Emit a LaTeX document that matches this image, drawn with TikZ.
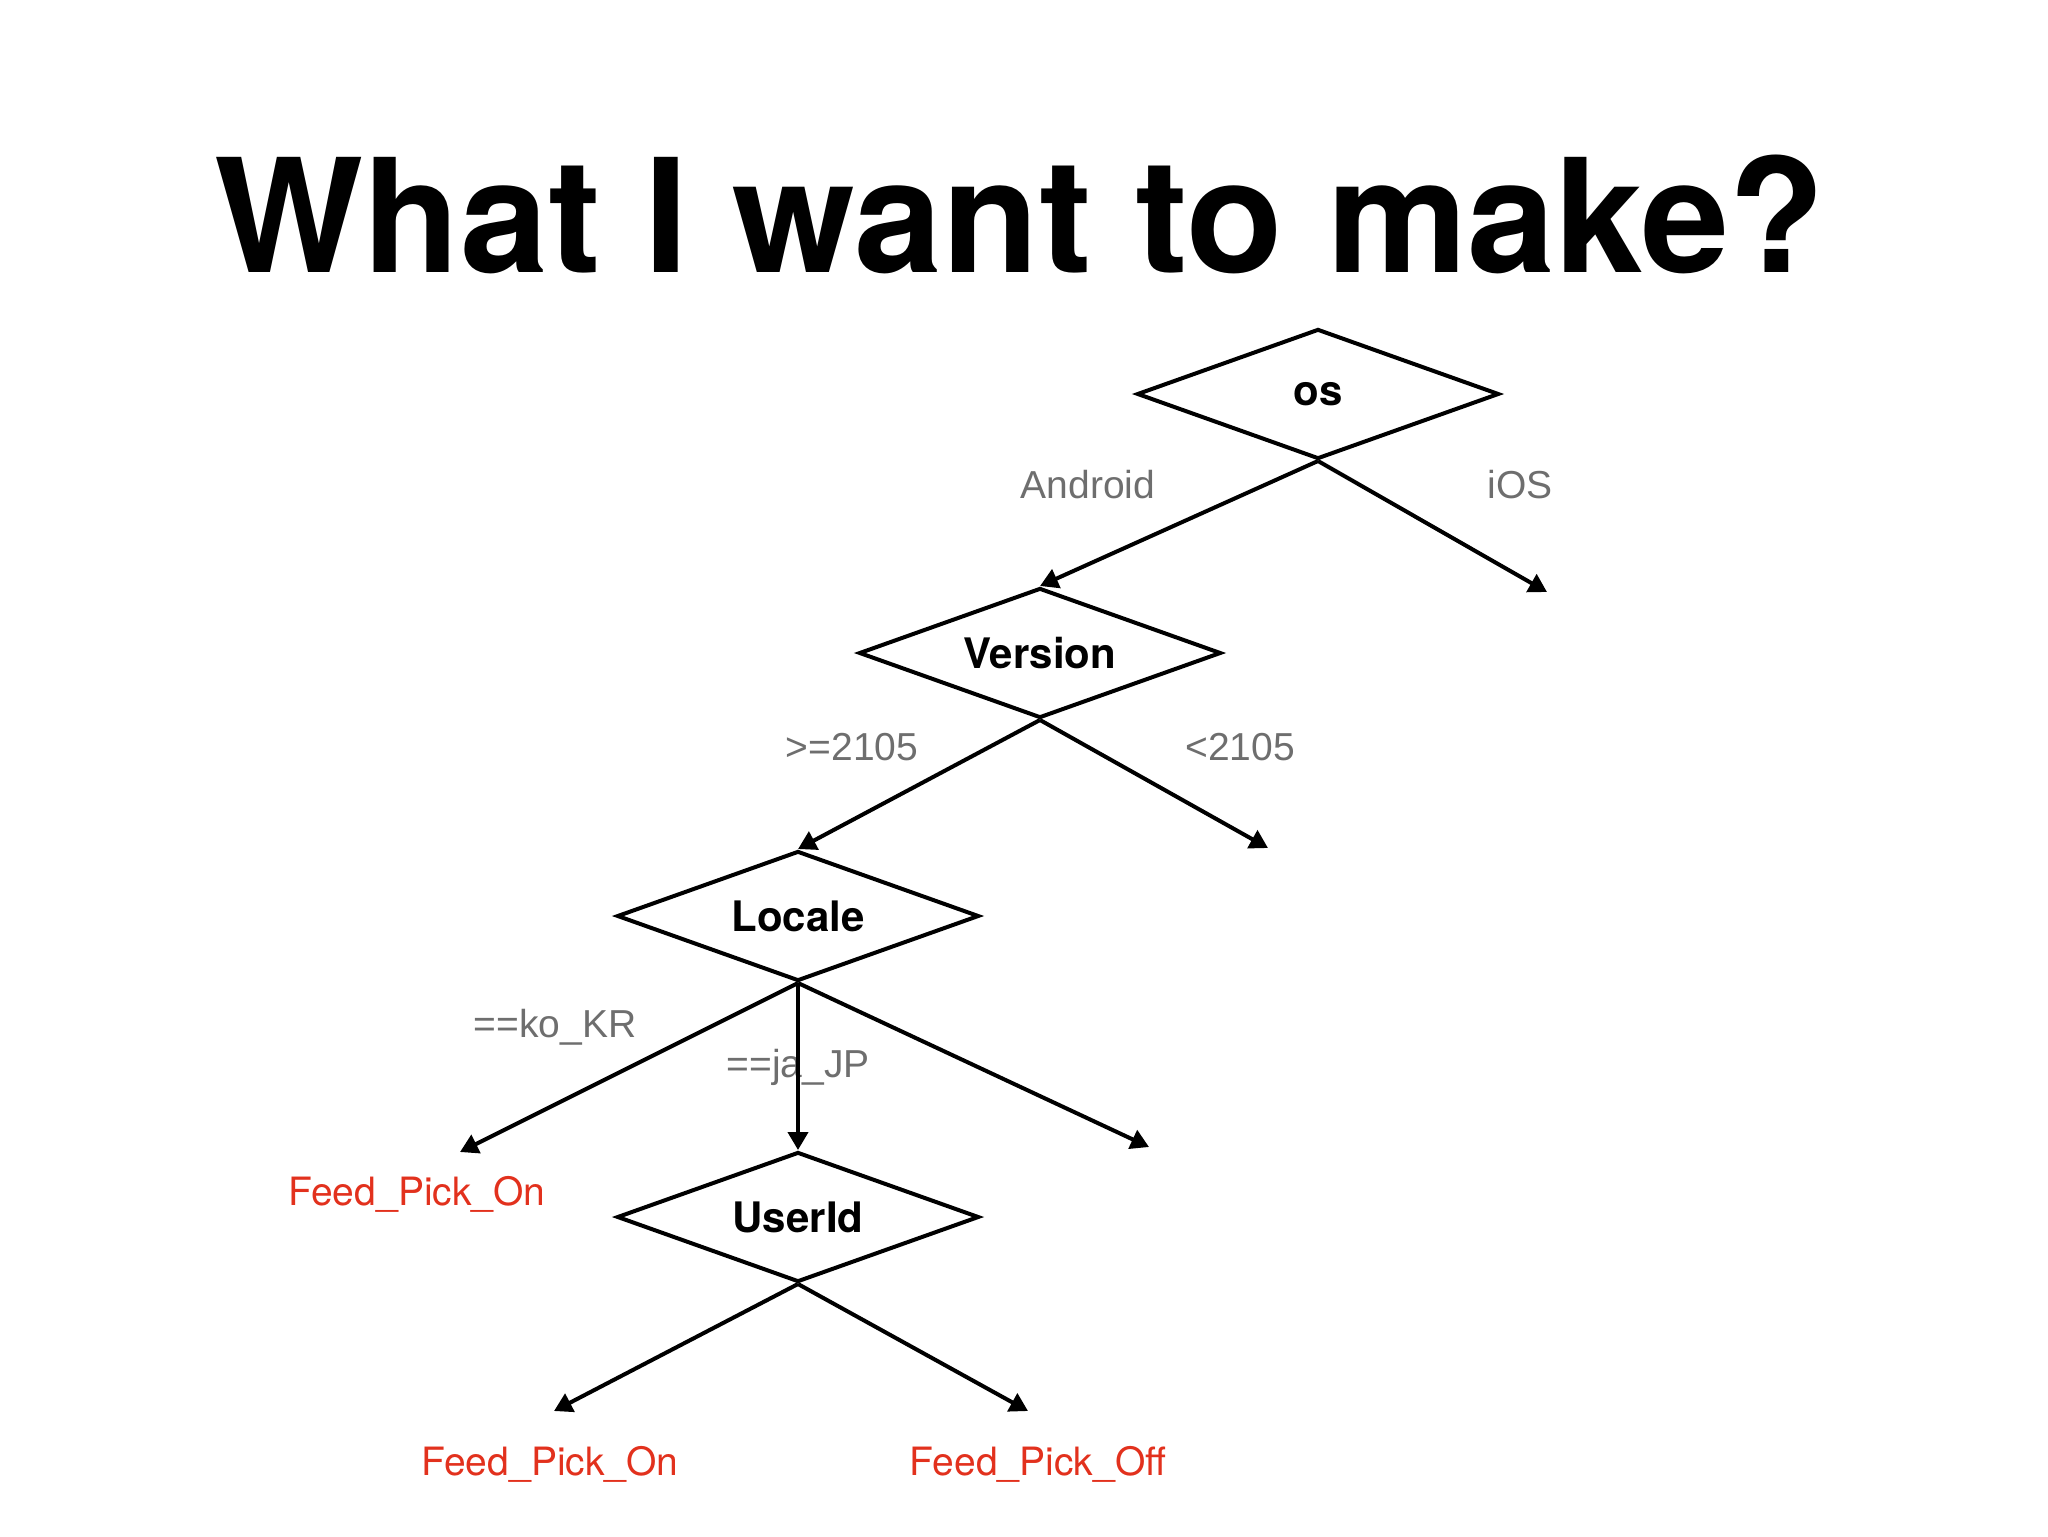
\documentclass[tikz,border=0pt]{standalone}
\usepackage{fontspec}
\setmainfont{TeX Gyre Heros}
\newfontfamily\condfont{Liberation Sans}
\usetikzlibrary{shapes.geometric,arrows.meta}
\definecolor{titlecolor}{HTML}{000000}
\definecolor{condcolor}{HTML}{6E6E6E}
\definecolor{leafcolor}{HTML}{E2311D}
\tikzset{
  decision/.style={diamond, aspect=2.8, draw, line width=2pt, minimum width=181pt, minimum height=65pt,
    inner sep=0pt, font=\bfseries\fontsize{21}{24}\selectfont},
  branch/.style={-{Triangle[length=9pt,width=10pt]}, line width=2pt},
  cond/.style={font=\condfont\fontsize{19.5}{22}\selectfont, text=condcolor},
  leaf/.style={font=\fontsize{19.5}{22}\selectfont, text=leafcolor},
}

\begin{document}
\begin{tikzpicture}[x=0.5pt, y=-0.5pt]
  \useasboundingbox (0,0) rectangle (2048,1536);

  % === TITLE ===
  \node[anchor=base, font=\bfseries\fontsize{79}{90}\selectfont\color{titlecolor}] (title)
    at (1020, 272) {What I want to make?};

  % === DECISIONS ===
  \node[decision] (os)  at (1318, 394) {os};
  \node[decision] (ver) at (1040, 653) {Version};
  \node[decision] (loc) at (798, 916) {Locale};
  \node[decision] (uid) at (798, 1217) {UserId};

  % free ends
  \coordinate (iosend)   at (1547, 592);
  \coordinate (oldend)   at (1268, 848);
  \coordinate (krend)    at (460, 1152);
  \coordinate (otherend) at (1149, 1147);
  \coordinate (onend)    at (554, 1411);
  \coordinate (offend)   at (1028, 1411);

  % === CONDITIONS ===
  \node[cond] (android) at (1088, 485) {Android};
  \node[cond] (ios)     at (1520, 485) {iOS};
  \node[cond] (newver)  at (852, 747) {>=2105};
  \node[cond] (oldver)  at (1240, 747) {<2105};
  \node[cond] (kokr)    at (555, 1027) {==ko\_KR};
  \node[cond] (jajp)    at (798, 1067) {==ja\_JP};

  % === RESULTS ===
  \node[leaf] (pickon)    at (417, 1194) {Feed\_Pick\_On};
  \node[leaf] (uidon)     at (550, 1464) {Feed\_Pick\_On};
  \node[leaf] (uidoff)    at (1038, 1464) {Feed\_Pick\_Off};

  % === BRANCHES ===
  \draw[branch] (os.south) -- (ver.north);
  \draw[branch] (os.south) -- (iosend);
  \draw[branch] (ver.south) -- (loc.north);
  \draw[branch] (ver.south) -- (oldend);
  \draw[branch] (loc.south) -- (krend);
  \draw[branch] (loc.south) -- (uid.north);
  \draw[branch] (loc.south) -- (otherend);
  \draw[branch] (uid.south) -- (onend);
  \draw[branch] (uid.south) -- (offend);
\end{tikzpicture}
\end{document}
